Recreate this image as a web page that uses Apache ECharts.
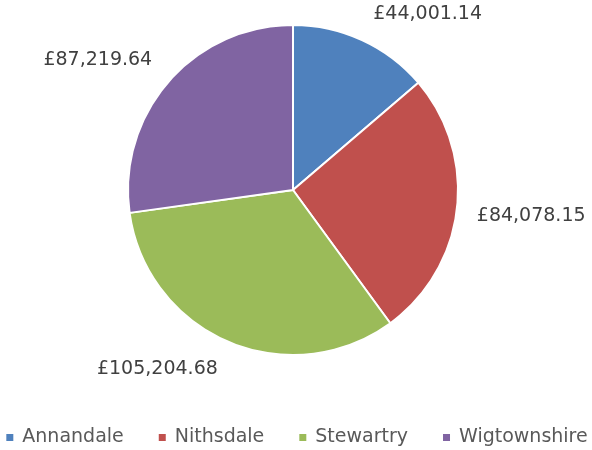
<!DOCTYPE html>
<html>
<head>
<meta charset="utf-8">
<script src="https://cdn.jsdelivr.net/npm/echarts@6/dist/echarts.min.js"></script>
<style>html,body{margin:0;padding:0;background:#fff}#c{width:592px;height:450px}</style>
</head>
<body>
<div id="c"></div>
<script>
const categories = ['Annandale', 'Nithsdale', 'Stewartry', 'Wigtownshire'];
const values = [44001.14, 84078.15, 105204.68, 87219.64];
const colors = ['#4F81BD', '#C0504D', '#9BBB59', '#8064A2'];
// vertical nudge of each data label (Excel "outside end" style)
const labelDy = [-12, 5, 13, -12];

function fmt(v) {
  return '£' + v.toLocaleString('en-GB', {minimumFractionDigits: 2, maximumFractionDigits: 2});
}

const chart = echarts.init(document.getElementById('c'));
chart.setOption({
  animation: false,
  color: colors,
  legend: {
    top: 428,
    left: 'center',
    padding: 0,
    icon: 'rect',
    itemWidth: 9,
    itemHeight: 9,
    itemGap: 33,
    data: categories,
    textStyle: {fontFamily: 'DejaVu Sans', fontSize: 19, color: '#595959', padding: [0, 0, 0, 3]}
  },
  series: [{
    type: 'pie',
    center: [293, 190],
    radius: [0, 165],
    startAngle: 90,
    clockwise: true,
    data: categories.map((c, i) => ({name: c, value: values[i]})),
    itemStyle: {borderColor: '#fff', borderWidth: 2},
    label: {
      show: true,
      position: 'outside',
      formatter: p => fmt(p.value),
      fontFamily: 'DejaVu Sans',
      fontSize: 19,
      color: '#404040',
      overflow: 'none'
    },
    labelLine: {show: false, length: 15, length2: 0},
    labelLayout: p => ({dy: labelDy[p.dataIndex]})
  }]
});
</script>
</body>
</html>
